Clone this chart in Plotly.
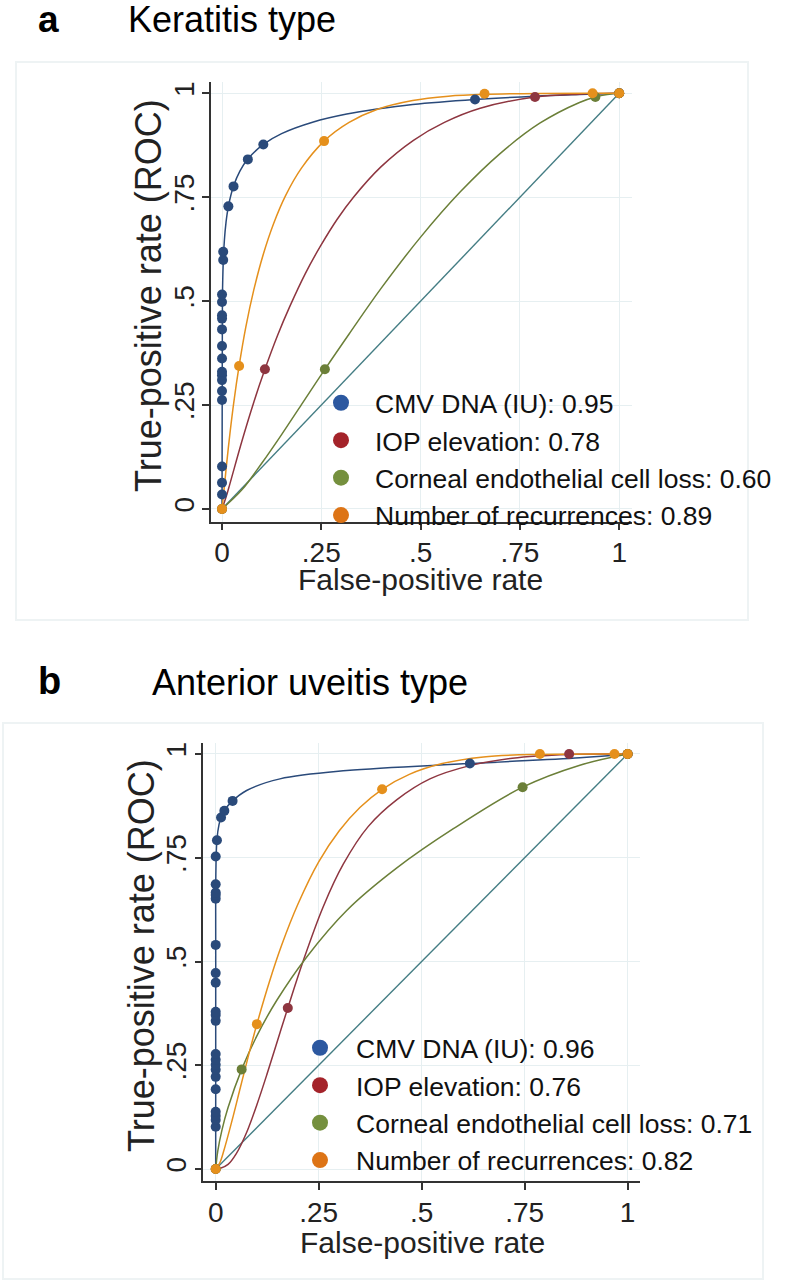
import plotly.graph_objects as go

W, H = 788, 1282
FONT = "Liberation Sans, Arial, sans-serif"

# ---------------- data ----------------
tick_vals = [0, 0.25, 0.5, 0.75, 1]
tick_text = ["0", ".25", ".5", ".75", "1"]

series_names_a = ["CMV DNA (IU): 0.95", "IOP elevation: 0.78",
                  "Corneal endothelial cell loss: 0.60", "Number of recurrences: 0.89"]
series_names_b = ["CMV DNA (IU): 0.96", "IOP elevation: 0.76",
                  "Corneal endothelial cell loss: 0.71", "Number of recurrences: 0.82"]

diag_x = [0, 1]
diag_y = [0, 1]

# Panel a (keratitis) - fitted curves
a_cmv_cx = [0, 0.0005, 0.001, 0.003, 0.006, 0.01, 0.016, 0.029, 0.045, 0.065, 0.104, 0.15, 0.23, 0.314, 0.39, 0.48, 0.637, 0.788, 0.9, 1.0]
a_cmv_cy = [0, 0.30, 0.506, 0.591, 0.647, 0.689, 0.728, 0.777, 0.813, 0.842, 0.877, 0.903, 0.931, 0.950, 0.962, 0.973, 0.985, 0.993, 0.997, 1.0]
a_iop_cx = [0, 0.01, 0.02, 0.05, 0.08, 0.108, 0.14, 0.171, 0.21, 0.247, 0.29, 0.331, 0.4, 0.482, 0.56, 0.65, 0.788, 0.9, 1.0]
a_iop_cy = [0, 0.028, 0.061, 0.163, 0.257, 0.336, 0.418, 0.488, 0.567, 0.631, 0.697, 0.750, 0.823, 0.887, 0.930, 0.964, 0.991, 0.998, 1.0]
a_cec_cx = [0, 0.05, 0.1, 0.15, 0.2, 0.259, 0.32, 0.4, 0.5, 0.6, 0.7, 0.8, 0.9, 0.94, 0.97, 1.0]
a_cec_cy = [0, 0.046, 0.110, 0.179, 0.251, 0.336, 0.421, 0.530, 0.654, 0.763, 0.855, 0.928, 0.978, 0.991, 0.997, 1.0]
a_rec_cx = [0, 0.005, 0.01, 0.02, 0.03, 0.043, 0.06, 0.08, 0.104, 0.13, 0.16, 0.2, 0.257, 0.32, 0.39, 0.48, 0.57, 0.661, 0.8, 1.0]
a_rec_cy = [0, 0.045, 0.094, 0.182, 0.259, 0.344, 0.438, 0.527, 0.613, 0.687, 0.754, 0.820, 0.885, 0.930, 0.961, 0.9825, 0.993, 0.9975, 0.9997, 1.0]

# Panel a - empirical points
a_cmv_px = [0, 0, 0, 0, 0, 0, 0, 0, 0, 0, 0, 0, 0, 0, 0, 0.003, 0.003, 0.016, 0.029, 0.065, 0.104, 0.637, 1.0]
a_cmv_py = [0.035, 0.063, 0.102, 0.262, 0.284, 0.310, 0.322, 0.330, 0.362, 0.392, 0.432, 0.458, 0.466, 0.498, 0.516, 0.599, 0.619, 0.728, 0.776, 0.841, 0.877, 0.985, 1.0]
a_iop_px = [0, 0.108, 0.788, 1.0]
a_iop_py = [0, 0.336, 0.991, 1.0]
a_cec_px = [0, 0.259, 0.94, 1.0]
a_cec_py = [0, 0.336, 0.991, 1.0]
a_rec_px = [0, 0.043, 0.257, 0.661, 0.933, 1.0]
a_rec_py = [0, 0.344, 0.885, 0.999, 1.0, 1.0]

# Panel b (anterior uveitis) - fitted curves
b_cmv_cx = [0, 0.00005, 0.0005, 0.003, 0.008, 0.013, 0.021, 0.041, 0.075, 0.156, 0.318, 0.617, 0.884, 1.0]
b_cmv_cy = [0, 0.50, 0.72, 0.794, 0.830, 0.847, 0.864, 0.887, 0.912, 0.940, 0.960, 0.977, 0.991, 1.0]
b_iop_cx = [0, 0.01, 0.03, 0.05, 0.075, 0.1, 0.125, 0.15, 0.175, 0.213, 0.261, 0.31, 0.37, 0.44, 0.52, 0.617, 0.72, 0.858, 1.0]
b_iop_cy = [0, 0.001, 0.011, 0.037, 0.088, 0.155, 0.23, 0.309, 0.388, 0.503, 0.632, 0.735, 0.825, 0.89, 0.94, 0.972, 0.99, 0.999, 1.0]
b_cec_cx = [0, 0.005, 0.015, 0.03, 0.063, 0.1, 0.148, 0.221, 0.318, 0.439, 0.577, 0.745, 0.884, 1.0]
b_cec_cy = [0, 0.043, 0.093, 0.148, 0.24, 0.321, 0.406, 0.511, 0.623, 0.725, 0.82, 0.92, 0.973, 1.0]
b_rec_cx = [0, 0.01, 0.02, 0.04, 0.06, 0.08, 0.1, 0.13, 0.16, 0.2, 0.25, 0.3, 0.35, 0.404, 0.47, 0.55, 0.65, 0.787, 1.0]
b_rec_cy = [0, 0.015, 0.045, 0.118, 0.197, 0.275, 0.349, 0.45, 0.539, 0.639, 0.74, 0.815, 0.871, 0.915, 0.951, 0.977, 0.993, 0.999, 1.0]

# Panel b - empirical points
b_cmv_px = [0] * 21 + [0.003, 0.013, 0.021, 0.041, 0.617, 1.0]
b_cmv_py = [0.102, 0.118, 0.128, 0.138, 0.192, 0.222, 0.239, 0.251, 0.263, 0.277, 0.357, 0.371, 0.379,
            0.449, 0.472, 0.540, 0.651, 0.660, 0.666, 0.686, 0.753, 0.792, 0.847, 0.863, 0.887, 0.977, 1.0]
b_iop_px = [0, 0.175, 0.858, 1.0]
b_iop_py = [0, 0.388, 1.0, 1.0]
b_cec_px = [0, 0.063, 0.745, 1.0]
b_cec_py = [0, 0.24, 0.92, 1.0]
b_rec_px = [0, 0.1, 0.404, 0.787, 0.968, 1.0]
b_rec_py = [0, 0.349, 0.915, 1.0, 1.0, 1.0]

# ---------------- styles ----------------
curve_colors = ["#2a4a7a", "#8e3640", "#6b7f38", "#e5901c"]
legend_colors = ["#2c58a0", "#a4232a", "#75903e", "#dd7416"]
diag_color = "#447d84"

fig = go.Figure()


def add_panel(xa, ya, curves, points, names, legend_id):
    fig.add_trace(go.Scatter(x=diag_x, y=diag_y, mode="lines", xaxis=xa, yaxis=ya,
                             line=dict(color=diag_color, width=1.4), showlegend=False, hoverinfo="skip"))
    for (cx, cy), col in zip(curves, curve_colors):
        fig.add_trace(go.Scatter(x=cx, y=cy, mode="lines", xaxis=xa, yaxis=ya,
                                 line=dict(color=col, width=1.5, shape="spline", smoothing=1.0),
                                 showlegend=False, hoverinfo="skip"))
    for (px, py), col in zip(points, curve_colors):
        fig.add_trace(go.Scatter(x=px, y=py, mode="markers", xaxis=xa, yaxis=ya,
                                 marker=dict(color=col, size=10, line=dict(width=0)),
                                 showlegend=False))
    for name, col in zip(names, legend_colors):
        fig.add_trace(go.Scatter(x=[None], y=[None], mode="markers", xaxis=xa, yaxis=ya,
                                 name=name, legend=legend_id,
                                 marker=dict(color=col, size=16)))


add_panel("x", "y",
          [(a_cmv_cx, a_cmv_cy), (a_iop_cx, a_iop_cy), (a_cec_cx, a_cec_cy), (a_rec_cx, a_rec_cy)],
          [(a_cmv_px, a_cmv_py), (a_iop_px, a_iop_py), (a_cec_px, a_cec_py), (a_rec_px, a_rec_py)],
          series_names_a, "legend")
add_panel("x2", "y2",
          [(b_cmv_cx, b_cmv_cy), (b_iop_cx, b_iop_cy), (b_cec_cx, b_cec_cy), (b_rec_cx, b_rec_cy)],
          [(b_cmv_px, b_cmv_py), (b_iop_px, b_iop_py), (b_cec_px, b_cec_py), (b_rec_px, b_rec_py)],
          series_names_b, "legend2")


def px_x(p):
    return p / W


def px_y(p):
    return 1 - p / H


axis_common = dict(
    tickvals=tick_vals, ticktext=tick_text, showgrid=True, gridcolor="#e6eff1", gridwidth=1,
    zeroline=False, showline=True, linecolor="#333333", linewidth=1.5,
    ticks="outside", ticklen=7, tickwidth=1.5, tickcolor="#333333",
    tickfont=dict(family=FONT, size=28, color="#222222"), fixedrange=True,
)

fig.update_layout(
    width=W, height=H, margin=dict(l=0, r=0, t=0, b=0, autoexpand=False),
    paper_bgcolor="white", plot_bgcolor="white",
    font=dict(family=FONT, color="#111111"),
    xaxis=dict(domain=[px_x(210.7), px_x(631.7)], range=[-0.0285, 1.0315], anchor="y",
               ticklabelstandoff=-2, **axis_common),
    yaxis=dict(domain=[px_y(521.7), px_y(81.7)], range=[-0.0306, 1.0279], anchor="x",
               tickangle=-90, ticklabelstandoff=-3, **axis_common),
    xaxis2=dict(domain=[px_x(203.3), px_x(640.0)], range=[-0.0301, 1.030], anchor="y2",
                ticklabelstandoff=-1, **axis_common),
    yaxis2=dict(domain=[px_y(1181.0), px_y(742.7)], range=[-0.0289, 1.0272], anchor="x2",
                tickangle=-90, ticklabelstandoff=-3, **axis_common),
    legend=dict(x=px_x(307), y=px_y(379), xanchor="left", yanchor="top",
                bgcolor="rgba(0,0,0,0)", borderwidth=0, itemwidth=58,
                font=dict(family=FONT, size=26.5, color="#111111"), tracegroupgap=0),
    legend2=dict(x=px_x(284), y=px_y(1024), xanchor="left", yanchor="top",
                 bgcolor="rgba(0,0,0,0)", borderwidth=0, itemwidth=62,
                 font=dict(family=FONT, size=26.5, color="#111111"), tracegroupgap=0),
    showlegend=True,
)

# panel frames
fig.add_shape(type="rect", xref="paper", yref="paper",
              x0=px_x(16), x1=px_x(748), y0=px_y(620), y1=px_y(62),
              line=dict(color="#eef3f4", width=2), layer="below")
fig.add_shape(type="rect", xref="paper", yref="paper",
              x0=px_x(3), x1=px_x(763), y0=px_y(1279), y1=px_y(723),
              line=dict(color="#eef3f4", width=2), layer="below")

ann = []
ann.append(dict(text="<b>a</b>", x=px_x(36), y=px_y(19), xanchor="left", yanchor="middle",
                font=dict(family=FONT, size=37, color="black")))
ann.append(dict(text="Keratitis type", x=px_x(126), y=px_y(19), xanchor="left", yanchor="middle",
                font=dict(family=FONT, size=36, color="black")))
ann.append(dict(text="<b>b</b>", x=px_x(36), y=px_y(681), xanchor="left", yanchor="middle",
                font=dict(family=FONT, size=38, color="black")))
ann.append(dict(text="Anterior uveitis type", x=px_x(150), y=px_y(682), xanchor="left", yanchor="middle",
                font=dict(family=FONT, size=36, color="black")))
ann.append(dict(text="False-positive rate", x=px_x(420), y=px_y(580), xanchor="center", yanchor="middle",
                font=dict(family=FONT, size=30, color="#222222")))
ann.append(dict(text="False-positive rate", x=px_x(422), y=px_y(1242), xanchor="center", yanchor="middle",
                font=dict(family=FONT, size=30, color="#222222")))
ann.append(dict(text="True-positive rate (ROC)", x=px_x(148), y=px_y(296), xanchor="center", yanchor="middle",
                textangle=-90, font=dict(family=FONT, size=36, color="#222222")))
ann.append(dict(text="True-positive rate (ROC)", x=px_x(141), y=px_y(956), xanchor="center", yanchor="middle",
                textangle=-90, font=dict(family=FONT, size=36, color="#222222")))
for a in ann:
    a.update(xref="paper", yref="paper", showarrow=False)
fig.update_layout(annotations=ann)

fig.write_html("out.html", config={"displayModeBar": False},
               post_script="document.body.style.margin='0';document.body.style.overflow='hidden';")
